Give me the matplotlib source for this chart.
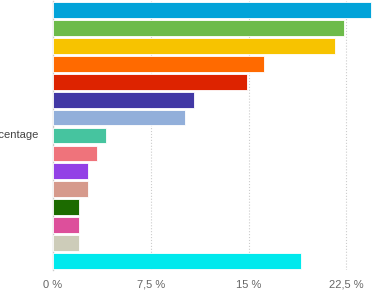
import numpy as np
import matplotlib.pyplot as plt

plt.rcParams['font.family'] = ['Liberation Sans', 'DejaVu Sans']

values = [24.4, 22.3, 21.6, 16.2, 14.9, 10.8, 10.1, 4.1, 3.4, 2.7, 2.7, 2.0, 2.0, 2.0, 19.0]
colors = ['#02A3D9', '#6DBB4A', '#F7C300', '#FF6A00', '#DD2300', '#4238A5',
          '#92AFDA', '#46C49F', '#EF737B', '#9340E6', '#D69A8C', '#1C6B00',
          '#DD4F9B', '#CDCCB9', '#00E9ED']
xticks = [0, 7.5, 15, 22.5]
xticklabels = ['0 %', '7,5 %', '15 %', '22,5 %']

fig = plt.figure(figsize=(3.79, 2.99), dpi=100)
ax = fig.add_axes([53 / 379, 29 / 299, 326 / 379, 269 / 299])

pos = np.arange(len(values))
ax.barh(pos, values, height=0.88, color=colors, edgecolor='white', linewidth=0.6, zorder=3)

ax.set_xlim(0, 25)
ax.set_ylim(len(values) - 0.5, -0.5)
ax.set_xticks(xticks)
ax.set_xticklabels(xticklabels, color='#666666', fontsize=8)
ax.set_yticks([])
ax.tick_params(axis='x', length=0, pad=7)
ax.grid(axis='x', color='#cccccc', linestyle=':', linewidth=0.8, zorder=0)

for s in ['top', 'right', 'bottom']:
    ax.spines[s].set_visible(False)
ax.spines['left'].set_color('#cccccc')
ax.spines['left'].set_linewidth(1)

ax.set_ylabel('Percentage', rotation=0, ha='right', va='center', fontsize=8, color='#444444')
ax.yaxis.set_label_coords(-15 / 326, 0.5)

fig.savefig('out.png', dpi=100)
